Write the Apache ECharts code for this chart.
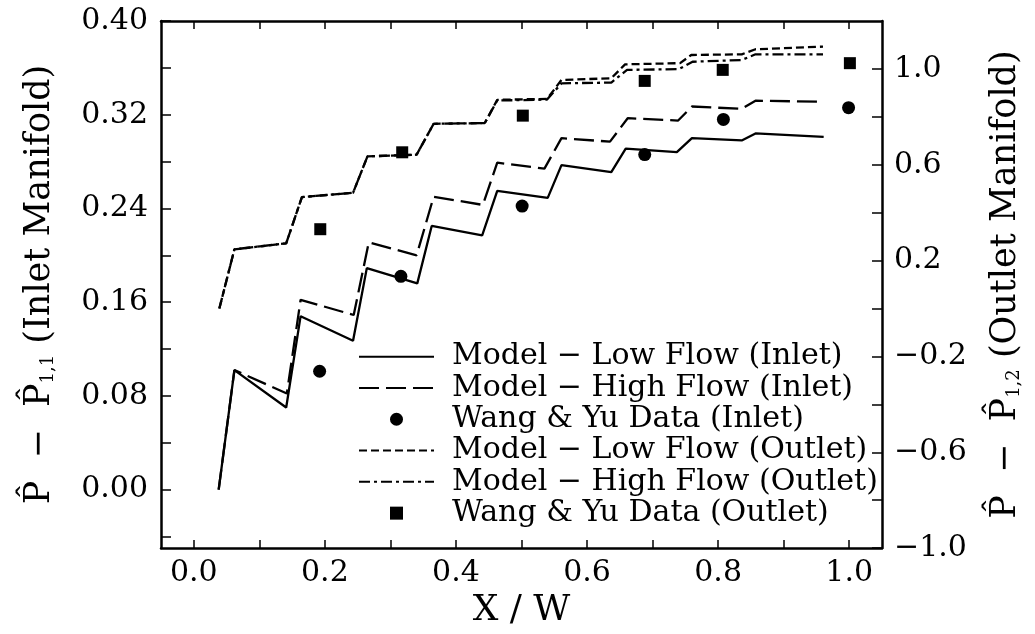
<!DOCTYPE html>
<html>
<head>
<meta charset="utf-8">
<script src="https://cdn.jsdelivr.net/npm/echarts@6/dist/echarts.min.js"></script>
<style>
  html, body { margin: 0; padding: 0; background: #fff; }
  #main { width: 1035px; height: 634px; }
</style>
</head>
<body>
<div id="main"></div>
<script>
'use strict';

// model curves, inlet manifold (left axis)
var inletLowX = [0.038, 0.062, 0.141, 0.163, 0.243, 0.264, 0.341, 0.363, 0.440, 0.463, 0.540, 0.561, 0.637, 0.659, 0.737, 0.760, 0.836, 0.857, 0.961];
var inletLowY = [0.000, 0.102, 0.070, 0.148, 0.127, 0.189, 0.176, 0.225, 0.217, 0.255, 0.249, 0.277, 0.271, 0.291, 0.288, 0.300, 0.298, 0.304, 0.301];
var inletHighX = [0.038, 0.062, 0.142, 0.163, 0.244, 0.267, 0.340, 0.366, 0.441, 0.463, 0.535, 0.561, 0.635, 0.662, 0.739, 0.760, 0.836, 0.857, 0.961];
var inletHighY = [0.000, 0.102, 0.082, 0.162, 0.149, 0.211, 0.200, 0.250, 0.243, 0.279, 0.274, 0.300, 0.297, 0.317, 0.315, 0.327, 0.325, 0.332, 0.331];

// model curves, outlet manifold (right axis)
var outletLowX = [0.039, 0.062, 0.141, 0.165, 0.243, 0.265, 0.340, 0.366, 0.444, 0.463, 0.539, 0.561, 0.637, 0.658, 0.742, 0.759, 0.836, 0.857, 0.960];
var outletLowY = [0.000, 0.247, 0.272, 0.465, 0.483, 0.635, 0.642, 0.771, 0.774, 0.871, 0.875, 0.954, 0.961, 1.019, 1.024, 1.058, 1.061, 1.082, 1.093];
var outletHighX = [0.039, 0.062, 0.141, 0.165, 0.243, 0.265, 0.340, 0.366, 0.444, 0.463, 0.539, 0.561, 0.637, 0.661, 0.740, 0.761, 0.836, 0.857, 0.960];
var outletHighY = [0.000, 0.247, 0.272, 0.465, 0.483, 0.635, 0.642, 0.771, 0.774, 0.868, 0.872, 0.940, 0.943, 0.996, 0.999, 1.030, 1.037, 1.061, 1.061];

// Wang & Yu measurements
var inletDataX = [0.192, 0.316, 0.501, 0.688, 0.808, 0.999];
var inletDataY = [0.101, 0.182, 0.242, 0.286, 0.316, 0.326];
var outletDataX = [0.193, 0.318, 0.502, 0.688, 0.807, 1.001];
var outletDataY = [0.331, 0.652, 0.805, 0.950, 0.996, 1.024];

// ticks and labels
var xTicks = [0, 0.1, 0.2, 0.3, 0.4, 0.5, 0.6, 0.7, 0.8, 0.9, 1.0];
var xLabels = [0, 0.2, 0.4, 0.6, 0.8, 1.0];
var inletTicks = [-0.04, 0, 0.04, 0.08, 0.12, 0.16, 0.20, 0.24, 0.28, 0.32, 0.36, 0.40];
var inletLabels = [0, 0.08, 0.16, 0.24, 0.32, 0.40];
var outletTicks = [-1.0, -0.8, -0.6, -0.4, -0.2, 0, 0.2, 0.4, 0.6, 0.8, 1.0];
var outletLabels = [-1.0, -0.6, -0.2, 0.2, 0.6, 1.0];

var names = [
  'Model − Low Flow (Inlet)',
  'Model − High Flow (Inlet)',
  'Wang & Yu Data (Inlet)',
  'Model − Low Flow (Outlet)',
  'Model − High Flow (Outlet)',
  'Wang & Yu Data (Outlet)'
];

function pairs(xs, ys) {
  return xs.map(function (x, i) { return [x, ys[i]]; });
}

var FONT = 'DejaVu Serif';
var INK = '#000';

function fmt(d) {
  return function (v) { return v.toFixed(d).replace('-', '−'); };
}

function xAxisCfg(pos, labels) {
  return {
    type: 'value', position: pos, min: -0.05, max: 1.05,
    axisLine: { onZero: false, lineStyle: { color: INK, width: 2.5 } },
    axisTick: { inside: true, length: 8, lineStyle: { color: INK, width: 1.5 }, customValues: xTicks },
    axisLabel: {
      show: labels, customValues: xLabels, formatter: fmt(1),
      color: INK, fontFamily: FONT, fontSize: 30, margin: 10
    },
    splitLine: { show: false }
  };
}

function yName(sub, txt) {
  return '{a|P̂  −  P̂}{s|' + sub + '}{a| ' + txt + '}';
}

var nameRich = {
  a: { color: INK, fontFamily: FONT, fontSize: 35 },
  s: { color: INK, fontFamily: FONT, fontSize: 18, verticalAlign: 'bottom' }
};

var myChart = echarts.init(document.getElementById('main'));

var xBottom = xAxisCfg('bottom', true);
xBottom.name = 'X / W';
xBottom.nameLocation = 'middle';
xBottom.nameGap = 34;
xBottom.nameTextStyle = { color: INK, fontFamily: FONT, fontSize: 36 };
var xTop = xAxisCfg('top', false);

// line entries: hide the legend symbol, keep only the line sample
var hideSym = { opacity: 0 };
var squareIcon = 'path://M0,0L10,0L10,10L0,10Z';

var option = {
  backgroundColor: '#fff',
  animation: false,
  grid: { left: 161, right: 153, top: 21, bottom: 84 },
  legend: {
    orient: 'vertical', left: 358, top: 341, padding: 0,
    itemWidth: 75, itemHeight: 13, itemGap: 0,
    data: [
      { name: names[0], itemStyle: hideSym },
      { name: names[1], itemStyle: hideSym },
      { name: names[2], icon: 'circle' },
      { name: names[3], itemStyle: hideSym },
      { name: names[4], itemStyle: hideSym },
      { name: names[5], icon: squareIcon }
    ],
    textStyle: { color: INK, fontFamily: FONT, fontSize: 30, lineHeight: 31.3, padding: [0, 0, 0, 13] }
  },
  xAxis: [xBottom, xTop],
  yAxis: [
    {
      type: 'value', position: 'left', min: -0.05, max: 0.40,
      axisLine: { onZero: false, lineStyle: { color: INK, width: 2.5 } },
      axisTick: { inside: true, length: 10, lineStyle: { color: INK, width: 1.5 }, customValues: inletTicks },
      axisLabel: { customValues: inletLabels, formatter: fmt(2), color: INK, fontFamily: FONT, fontSize: 30, margin: 13 },
      splitLine: { show: false },
      name: yName('1,1', '(Inlet Manifold)'),
      nameLocation: 'middle', nameRotate: 90, nameGap: 104,
      nameTextStyle: { rich: nameRich }
    },
    {
      type: 'value', position: 'right', min: -1.0, max: 1.2,
      axisLine: { onZero: false, lineStyle: { color: INK, width: 2.5 } },
      axisTick: { inside: true, length: 10, lineStyle: { color: INK, width: 1.5 }, customValues: outletTicks },
      axisLabel: { customValues: outletLabels, formatter: fmt(1), color: INK, fontFamily: FONT, fontSize: 30, margin: 12 },
      splitLine: { show: false },
      name: yName('1,2', '(Outlet Manifold)'),
      nameLocation: 'middle', nameRotate: 90, nameGap: 106,
      nameTextStyle: { rich: nameRich }
    }
  ],
  series: [
    {
      name: names[0], type: 'line', yAxisIndex: 0, symbol: 'none',
      itemStyle: { color: INK },
      lineStyle: { color: INK, width: 2.3, type: 'solid' },
      data: pairs(inletLowX, inletLowY)
    },
    {
      name: names[1], type: 'line', yAxisIndex: 0, symbol: 'none',
      itemStyle: { color: INK },
      lineStyle: { color: INK, width: 2.3, type: [20, 7] },
      data: pairs(inletHighX, inletHighY)
    },
    {
      name: names[2], type: 'scatter', yAxisIndex: 0, symbol: 'circle', symbolSize: 13,
      itemStyle: { color: INK, opacity: 1 },
      data: pairs(inletDataX, inletDataY)
    },
    {
      name: names[3], type: 'line', yAxisIndex: 1, symbol: 'none',
      itemStyle: { color: INK },
      lineStyle: { color: INK, width: 2.3, type: [8, 4] },
      data: pairs(outletLowX, outletLowY)
    },
    {
      name: names[4], type: 'line', yAxisIndex: 1, symbol: 'none',
      itemStyle: { color: INK },
      lineStyle: { color: INK, width: 2.3, type: [11, 4, 3, 4] },
      data: pairs(outletHighX, outletHighY)
    },
    {
      name: names[5], type: 'scatter', yAxisIndex: 1, symbol: 'rect', symbolSize: 12,
      itemStyle: { color: INK, opacity: 1 },
      data: pairs(outletDataX, outletDataY)
    }
  ]
};

myChart.setOption(option);
</script>
</body>
</html>
